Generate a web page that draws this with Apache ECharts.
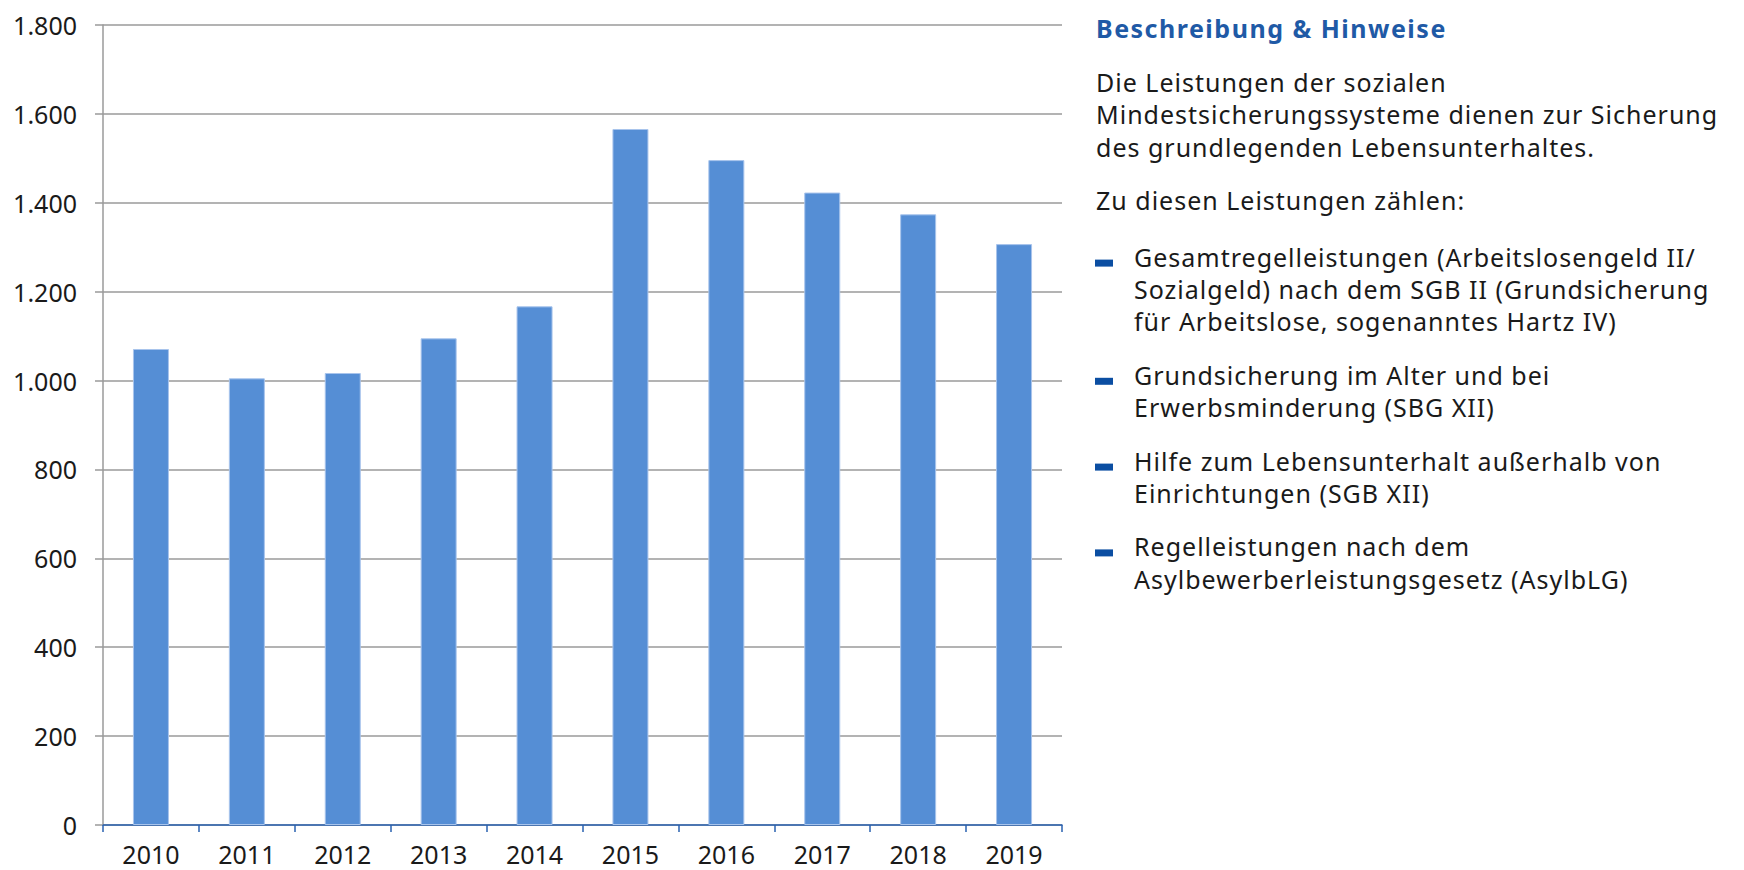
<!DOCTYPE html>
<html>
<head>
<meta charset="utf-8">
<script src="https://cdn.jsdelivr.net/npm/echarts@6/dist/echarts.min.js"></script>
<style>
  html, body { margin: 0; padding: 0; background: #ffffff; }
  #chart { width: 1744px; height: 870px; }
  #chart text[style*="NotesBody"] { letter-spacing: 1px; }
  #chart text[style*="NotesTitle"] { letter-spacing: 1.5px; }
</style>
</head>
<body>
<div id="chart"></div>
<script>
// ---- data ----
const years = ['2010', '2011', '2012', '2013', '2014', '2015', '2016', '2017', '2018', '2019'];
const values = [1071, 1005, 1017, 1095, 1167, 1566, 1496, 1423, 1374, 1307];
const yTicks = [0, 200, 400, 600, 800, 1000, 1200, 1400, 1600, 1800];

const noteTitle = 'Beschreibung & Hinweise';
const noteIntro = ['Die Leistungen der sozialen', 'Mindestsicherungssysteme dienen zur Sicherung', 'des grundlegenden Lebensunterhaltes.'];
const noteLead = ['Zu diesen Leistungen zählen:'];
const noteBullets = [
  ['Gesamtregelleistungen (Arbeitslosengeld II/', 'Sozialgeld) nach dem SGB II (Grundsicherung', 'für Arbeitslose, sogenanntes Hartz IV)'],
  ['Grundsicherung im Alter und bei', 'Erwerbsminderung (SBG XII)'],
  ['Hilfe zum Lebensunterhalt außerhalb von', 'Einrichtungen (SGB XII)'],
  ['Regelleistungen nach dem', 'Asylbewerberleistungsgesetz (AsylbLG)']
];

// ---- layout ----
const FONT = '"Noto Sans", "Open Sans", sans-serif';
const textX = 1096;
const bulletTextX = 1134;
const lineH = 32.4;
const paraGap = 21;
const bodySize = 25;

function fmt(v) {
  return String(v).replace(/\B(?=(\d{3})+(?!\d))/g, '.');
}

const graphics = [];
graphics.push({
  type: 'text',
  style: { x: textX, y: 28, text: noteTitle, fill: '#1f5aa6', font: 'bold 25px "Noto Sans", NotesTitle, sans-serif', verticalAlign: 'middle', align: 'left' }
});
let y = 82;
function addLines(lines, x) {
  lines.forEach(function (l) {
    graphics.push({
      type: 'text',
      style: { x: x, y: y, text: l, fill: '#1a1a1a', font: bodySize + 'px "Noto Sans", NotesBody, sans-serif', verticalAlign: 'middle', align: 'left' }
    });
    y += lineH;
  });
  y += paraGap;
}
addLines(noteIntro, textX);
addLines(noteLead, textX);
y += 3;
noteBullets.forEach(function (b) {
  graphics.push({
    type: 'rect',
    shape: { x: 1095, y: y + 3, width: 18, height: 7 },
    style: { fill: '#0b4ea2' }
  });
  addLines(b, bulletTextX);
});

const chart = echarts.init(document.getElementById('chart'), null, { renderer: 'svg' });
chart.setOption({
  animation: false,
  backgroundColor: '#ffffff',
  grid: { left: 103, right: 682, top: 25, bottom: 45, containLabel: false },
  xAxis: {
    type: 'category',
    data: years,
    axisLine: { lineStyle: { color: '#2a62b0', width: 1.5 } },
    axisTick: { show: true, length: 7, lineStyle: { color: '#2a62b0', width: 1.5 } },
    axisLabel: { color: '#1a1a1a', fontSize: 25, fontFamily: FONT, margin: 16 }
  },
  yAxis: {
    type: 'value',
    min: 0, max: 1800, interval: 200,
    axisLine: { show: true, lineStyle: { color: '#9a9a9a', width: 1.5 } },
    axisTick: { show: true, length: 8, lineStyle: { color: '#9a9a9a', width: 1.5 } },
    splitLine: { show: true, lineStyle: { color: '#9a9a9a', width: 1.5 } },
    axisLabel: {
      color: '#1a1a1a', fontSize: 25, fontFamily: FONT, margin: 26,
      formatter: function (v) { return yTicks.indexOf(v) >= 0 ? fmt(v) : ''; }
    }
  },
  series: [{
    type: 'bar',
    data: values,
    barWidth: 36,
    itemStyle: { color: '#558ed5', borderColor: '#a8c4ec', borderWidth: 1 }
  }],
  graphic: graphics
});
</script>
</body>
</html>
